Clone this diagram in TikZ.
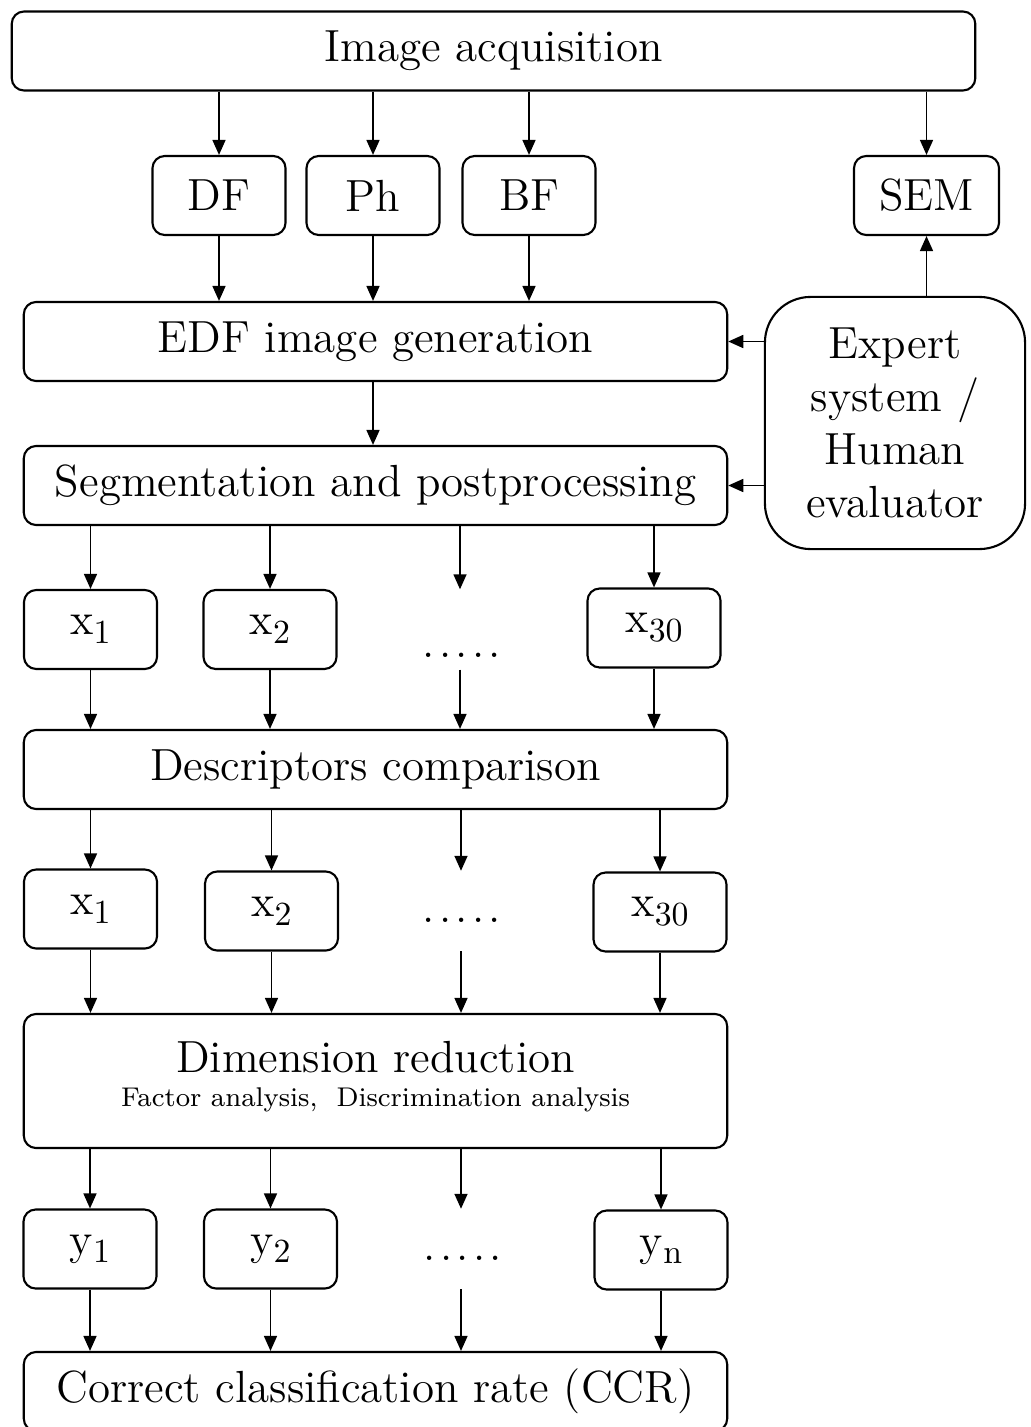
\documentclass[tikz,border=0pt]{standalone}
\usetikzlibrary{arrows.meta}
\newcommand{\lowidx}[1]{\raisebox{-0.45ex}{\fontsize{9.6}{11}\selectfont #1}}
\newcommand{\fivedots}{.\kern1.2pt.\kern1.2pt.\kern1.2pt.\kern1.2pt.}

\begin{document}
\begin{tikzpicture}[x=0.01cm,y=-0.01cm,
  box/.style={draw,line width=0.6pt,rounded corners=3.5pt,inner sep=0pt,
    minimum height=0.79cm,font=\fontsize{12.8}{15}\selectfont},
  small/.style={box,minimum width=1.33cm},
  gap/.style={inner sep=0pt,minimum width=1.33cm,minimum height=0.79cm},
  dotline/.style={inner sep=0pt,font=\fontsize{12.8}{15}\selectfont},
  arr/.style={line width=0.45pt,-{Triangle[length=1.5mm,width=1.3mm]}}]
  \useasboundingbox (0,0) rectangle (1031,1427);
  \node[box,minimum width=9.63cm] (acq) at (493.5,51) {Image acquisition};
  \node[small] (df) at (219,195.5) {DF};
  \node[small] (ph) at (373,195.5) {Ph};
  \node[small] (bf) at (529,195.5) {BF};
  \node[box,minimum width=1.45cm] (sem) at (926.5,195.5) {SEM};
  \node[box,minimum width=7.03cm] (edf) at (375.5,341.5) {EDF image generation};
  \node[box,minimum width=2.6cm,minimum height=2.52cm,rounded corners=13pt,align=center]
    (expert) at (895,423) {Expert\\system /\\Human\\evaluator};
  \node[box,minimum width=7.03cm] (seg) at (375.5,485.5) {Segmentation and postprocessing};
  \node[small] (xa) at (90.5,629.5) {x\lowidx{1}};
  \node[small] (xb) at (270,629.5) {x\lowidx{2}};
  \node[gap] (ga) at (460,629.5) {};
  \node[dotline] (dta) at (462,655) {\fivedots};
  \node[small] (xc) at (654,628) {x\lowidx{30}};
  \node[box,minimum width=7.03cm] (desc) at (375.5,769.5) {Descriptors comparison};
  \node[small] (xd) at (90.5,909) {x\lowidx{1}};
  \node[small] (xe) at (271.5,911) {x\lowidx{2}};
  \node[gap] (gb) at (461,911) {};
  \node[dotline] (dtb) at (462,920) {\fivedots};
  \node[small] (xf) at (660,912) {x\lowidx{30}};
  \node[box,minimum width=7.03cm,minimum height=1.34cm] (dim) at (375.5,1081) {};
  \node[font=\fontsize{12.8}{15}\selectfont] (dimt) at (375.5,1057) {Dimension reduction};
  \node[font=\fontsize{7.7}{10}\selectfont] (dims) at (375.5,1100) {Factor analysis,~~Discrimination analysis};
  \node[small] (ya) at (90,1249) {y\lowidx{1}};
  \node[small] (yb) at (270.5,1249) {y\lowidx{2}};
  \node[gap] (gc) at (461,1249) {};
  \node[dotline] (dtc) at (463,1258) {\fivedots};
  \node[small] (yc) at (661,1250) {y\lowidx{n}};
  \node[box,minimum width=7.03cm] (ccr) at (375.5,1391.5) {Correct classification rate (CCR)};
  \draw[arr] (acq.south -| df) -- (df);
  \draw[arr] (acq.south -| ph) -- (ph);
  \draw[arr] (acq.south -| bf) -- (bf);
  \draw[arr] (acq.south -| sem) -- (sem);
  \draw[arr] (df) -- (edf.north -| df);
  \draw[arr] (ph) -- (edf.north -| ph);
  \draw[arr] (bf) -- (edf.north -| bf);
  \draw[arr] (expert.north -| sem) -- (sem);
  \draw[arr] (expert.west |- edf) -- (edf.east);
  \draw[arr] (expert.west |- seg) -- (seg.east);
  \draw[arr] (edf.south -| ph) -- (seg.north -| ph);
  \draw[arr] (seg.south -| xa) -- (xa);
  \draw[arr] (seg.south -| xb) -- (xb);
  \draw[arr] (seg.south -| ga) -- (ga.north);
  \draw[arr] (seg.south -| xc) -- (xc);
  \draw[arr] (xa) -- (desc.north -| xa);
  \draw[arr] (xb) -- (desc.north -| xb);
  \draw[arr] (ga.south) -- (desc.north -| ga);
  \draw[arr] (xc) -- (desc.north -| xc);
  \draw[arr] (desc.south -| xd) -- (xd);
  \draw[arr] (desc.south -| xe) -- (xe);
  \draw[arr] (desc.south -| gb) -- (gb.north);
  \draw[arr] (desc.south -| xf) -- (xf);
  \draw[arr] (xd) -- (dim.north -| xd);
  \draw[arr] (xe) -- (dim.north -| xe);
  \draw[arr] (gb.south) -- (dim.north -| gb);
  \draw[arr] (xf) -- (dim.north -| xf);
  \draw[arr] (dim.south -| ya) -- (ya);
  \draw[arr] (dim.south -| yb) -- (yb);
  \draw[arr] (dim.south -| gc) -- (gc.north);
  \draw[arr] (dim.south -| yc) -- (yc);
  \draw[arr] (ya) -- (ccr.north -| ya);
  \draw[arr] (yb) -- (ccr.north -| yb);
  \draw[arr] (gc.south) -- (ccr.north -| gc);
  \draw[arr] (yc) -- (ccr.north -| yc);
\end{tikzpicture}
\end{document}
